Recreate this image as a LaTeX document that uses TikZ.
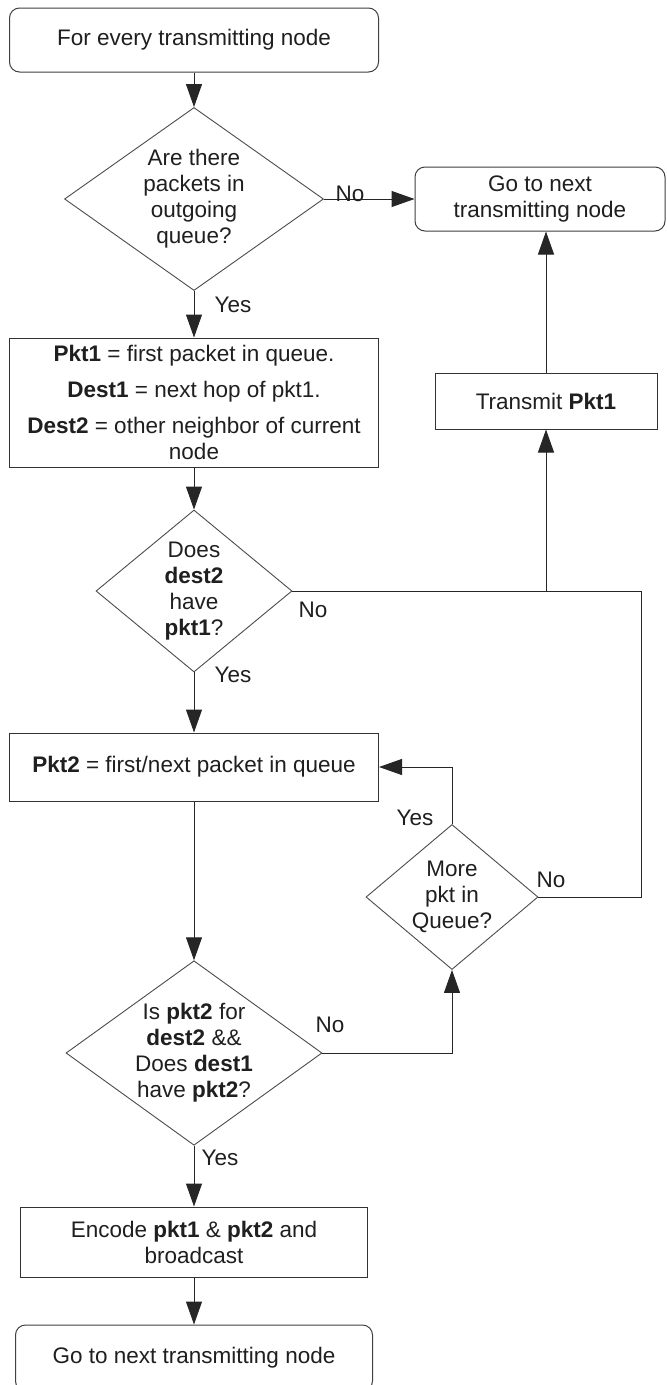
\documentclass[tikz,border=0pt]{standalone}
\usepackage{fontspec}
\setmainfont{Liberation Sans}
\usetikzlibrary{shapes.geometric,arrows.meta}
\begin{document}
\begin{tikzpicture}[x=1pt,y=-1pt,
  every node/.style={font=\fontsize{22.5}{26}\selectfont, text=black!88},
  term/.style={draw=black!75, line width=1pt, rounded corners=10pt, inner sep=0pt, align=center},
  proc/.style={draw=black!80, line width=1pt, inner sep=0pt, align=center},
  dec/.style={draw=black!70, line width=0.9pt, diamond, inner sep=-8pt, align=center},
  flow/.style={draw=black!85, line width=1pt},
  arr/.style={flow, -{Triangle[length=23pt,width=16pt]}},
  lbl/.style={inner sep=0pt}]
\useasboundingbox (0,0) rectangle (667,1385);
\clip (0,0) rectangle (667,1385);
\fill[white] (0,0) rectangle (667,1385);

% main column
\node[term, minimum width=369pt, minimum height=64pt] (start) at (194,40) {For every transmitting node};
\node[dec, minimum width=259pt, minimum height=183pt] (q1) at (194,199)
  {Are there\\packets in\\outgoing\\queue?};
\node[proc, minimum width=369pt, minimum height=129pt] (init) at (194,402.5)
  {\textbf{Pkt1} = first packet in queue.\\[10pt]\textbf{Dest1} = next hop of pkt1.\\[10pt]\textbf{Dest2} = other neighbor of current\\node};
\node[dec, minimum width=196pt, minimum height=162pt] (q2) at (194,591)
  {Does\\\textbf{dest2}\\have\\\textbf{pkt1}?};
\node[proc, minimum width=369pt, minimum height=68pt] (pick) at (194,767)
  {\textbf{Pkt2} = first/next packet in queue};
\node[dec, minimum width=256pt, minimum height=181pt] (q4) at (194,1053)
  {Is \textbf{pkt2} for\\\textbf{dest2} \&\&\\Does \textbf{dest1}\\have \textbf{pkt2}?};
\node[proc, minimum width=347pt, minimum height=70pt] (enc) at (194,1242)
  {Encode \textbf{pkt1} \& \textbf{pkt2} and\\broadcast};
\node[term, minimum width=357pt, minimum height=66pt] (endb) at (194,1358)
  {Go to next transmitting node};

% right-hand branch
\node[term, minimum width=250pt, minimum height=64pt] (endt) at (540,199)
  {Go to next\\transmitting node};
\node[proc, minimum width=222pt, minimum height=56pt] (tx) at (546,401)
  {Transmit \textbf{Pkt1}};
\node[dec, minimum width=172pt, minimum height=145pt] (q3) at (452,897)
  {More\\pkt in\\Queue?};
\coordinate (jr) at (641,591);

% connectors
\draw[arr] (start) -- (q1);
\draw[arr] (q1.east) -- (endt.west);
\draw[arr] (q1) -- (init);
\draw[arr] (init) -- (q2);
\draw[arr] (q2) -- (pick);
\draw[flow] (q2.east) -- (q2.east -| jr);
\draw[flow] (q3.east) -| (q2.east -| jr);
\draw[arr] (tx.south |- q2.east) -- (tx.south);
\draw[arr] (tx.north) -- (tx.north |- endt.south);
\draw[arr] (pick) -- (q4);
\draw[arr] (q4.east) -| (q3.south);
\draw[arr] (q3.north) |- (pick.east);
\draw[arr] (q4) -- (enc);
\draw[arr] (enc) -- (endb);

% branch labels
\node[lbl] (no1) at (350,194) {No};
\node[lbl] (yes1) at (233,305) {Yes};
\node[lbl] (no2) at (313,610) {No};
\node[lbl] (yes2) at (233,675) {Yes};
\node[lbl] (yes3) at (415,818) {Yes};
\node[lbl] (no3) at (551,880) {No};
\node[lbl] (no4) at (330,1025) {No};
\node[lbl] (yes4) at (220,1158) {Yes};
\end{tikzpicture}
\end{document}
